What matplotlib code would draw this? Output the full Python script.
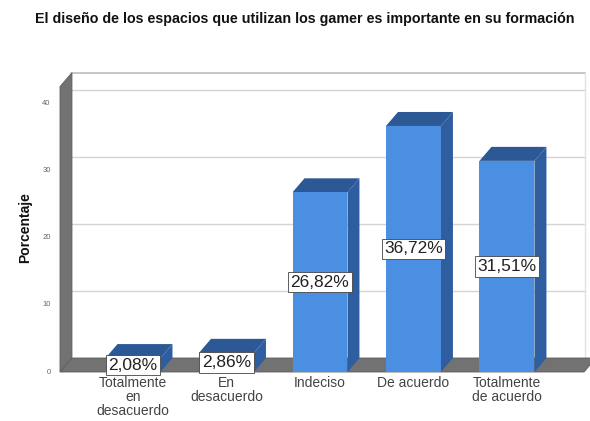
import matplotlib
matplotlib.use("Agg")
import matplotlib.pyplot as plt
from matplotlib.patches import Polygon

plt.rcParams["font.family"] = ["Liberation Sans", "DejaVu Sans"]

# Data
categories = ["Totalmente\nen\ndesacuerdo", "En\ndesacuerdo", "Indeciso",
              "De acuerdo", "Totalmente\nde acuerdo"]
values = [2.08, 2.86, 26.82, 36.72, 31.51]
value_labels = ["2,08%", "2,86%", "26,82%", "36,72%", "31,51%"]
yticks = [0, 10, 20, 30, 40]
title = "El diseño de los espacios que utilizan los gamer es importante en su formación"
ylabel = "Porcentaje"

# Styling / 3D geometry
W, H = 590, 421
FRONT = "#4b8fe3"
SIDE = "#2e5e9f"
TOP = "#2c5996"
WALL = "#727272"
GRID = "#d4d4d4"
half_w = 0.294          # half bar width (category units)
dx = 0.128              # depth offset along x (category units)
dy = 2.09               # depth offset along y (percent units)
x_left, x_right = -0.781, 4.888
y_top = 42.6

fig = plt.figure(figsize=(W / 100, H / 100), dpi=100)
ax = fig.add_axes([60 / W, (H - 372) / H, (590 - 60) / W, (372 - 73) / H])
ax.set_xlim(x_left, x_right)
ax.set_ylim(0, (372 - 73) / 6.7)
ax.axis("off")

wall_right = x_right - 0.05

# back wall gridlines
for t in yticks[1:]:
    ax.plot([x_left + dx, wall_right], [t + dy, t + dy], color=GRID, lw=1.0,
            zorder=1, clip_on=False)
# back wall border
ax.plot([x_left + dx, wall_right], [y_top + dy, y_top + dy], color="#bdbdbd",
        lw=1.2, zorder=1, clip_on=False)
ax.plot([wall_right, wall_right], [dy, y_top + dy], color="#e2e2e2",
        lw=1.0, zorder=1, clip_on=False)

# left wall
ax.add_patch(Polygon([(x_left, 0), (x_left + dx, dy), (x_left + dx, y_top + dy),
                      (x_left, y_top)], closed=True, facecolor=WALL,
                     edgecolor="#5e5e5e", lw=0.6, zorder=2, clip_on=False))
# floor
ax.add_patch(Polygon([(x_left, 0), (x_right - dx * 0.5, 0), (x_right + dx * 0.5, dy),
                      (x_left + dx, dy)], closed=True, facecolor=WALL,
                     edgecolor="#5e5e5e", lw=0.6, zorder=2, clip_on=False))

# tick labels on the front edge of the left wall
for t in yticks:
    ax.text(x_left - 0.1, t, str(t), ha="right", va="center", fontsize=5.5,
            color="#666666", zorder=5, clip_on=False)

# bars
for i, v in enumerate(values):
    xl, xr = i - half_w, i + half_w
    ax.add_patch(Polygon([(xr, 0), (xr + dx, dy), (xr + dx, v + dy), (xr, v)],
                         closed=True, facecolor=SIDE, edgecolor="none", zorder=3))
    ax.add_patch(Polygon([(xl, v), (xr, v), (xr + dx, v + dy), (xl + dx, v + dy)],
                         closed=True, facecolor=TOP, edgecolor="none", zorder=3))
    ax.add_patch(Polygon([(xl, 0), (xr, 0), (xr, v), (xl, v)], closed=True,
                         facecolor=FRONT, edgecolor="none", zorder=4))
    ax.text(i, v / 2, value_labels[i], ha="center", va="center", fontsize=12.5,
            color="#222222", zorder=6,
            bbox=dict(boxstyle="square,pad=0.15", facecolor="white",
                      edgecolor="#444444", lw=0.6))
    ax.text(i, -0.6, categories[i], ha="center", va="top", fontsize=10,
            color="#444444", linespacing=0.98, zorder=5, clip_on=False)

fig.text(305 / W, 1 - 19 / H, title, ha="center", va="center", fontsize=10.3,
         fontweight="bold", color="#111111")
fig.text(25 / W, 1 - 228 / H, ylabel, ha="center", va="center", rotation=90,
         fontsize=10, fontweight="bold", color="#111111")

fig.savefig("out.png", dpi=100)
